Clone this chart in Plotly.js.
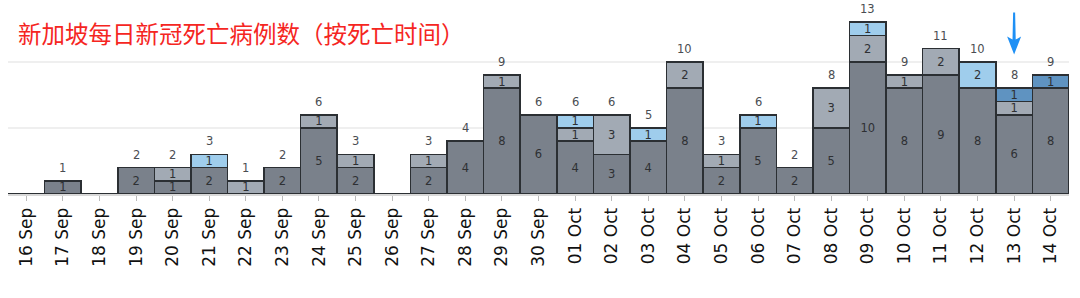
<!DOCTYPE html>
<html>
<head>
<meta charset="utf-8">
<script src="https://cdn.plot.ly/plotly-3.0.1.min.js"></script>
<style>html,body{margin:0;padding:0;background:#fff}#chart{width:1080px;height:298px}</style>
</head>
<body>
<div id="chart"></div>
<script>
const dates = ["16 Sep","17 Sep","18 Sep","19 Sep","20 Sep","21 Sep","22 Sep","23 Sep","24 Sep","25 Sep","26 Sep","27 Sep","28 Sep","29 Sep","30 Sep","01 Oct","02 Oct","03 Oct","04 Oct","05 Oct","06 Oct","07 Oct","08 Oct","09 Oct","10 Oct","11 Oct","12 Oct","13 Oct","14 Oct"];
const seriesDark  = [0,1,0,2,1,2,0,2,5,2,0,2,4,8,6,4,3,4,8,2,5,2,5,10,8,9,8,6,8];
const seriesGray  = [0,0,0,0,1,0,1,0,1,1,0,1,0,1,0,1,3,0,2,1,0,0,3,2,1,2,0,1,0];
const seriesLight = [0,0,0,0,0,1,0,0,0,0,0,0,0,0,0,1,0,1,0,0,1,0,0,1,0,0,2,0,0];
const seriesBlue  = [0,0,0,0,0,0,0,0,0,0,0,0,0,0,0,0,0,0,0,0,0,0,0,0,0,0,0,1,1];
const titleText = "新加坡每日新冠死亡病例数（按死亡时间）";
const markedDate = "13 Oct";

const totals = dates.map((d,i)=>seriesDark[i]+seriesGray[i]+seriesLight[i]+seriesBlue[i]);

function barTrace(vals, color){
  return {
    type:'bar', x:dates, y:vals,
    marker:{color:color, line:{color:'#2b2f33', width:1.6}},
    text: vals.map(v=>v>0?String(v):''),
    textposition:'inside', insidetextanchor:'middle', textangle:0,
    constraintext:'none',
    textfont:{family:'DejaVu Sans, sans-serif', size:11.5, color:'#2e3033'},
    hoverinfo:'skip', showlegend:false, cliponaxis:false
  };
}

const traces = [
  barTrace(seriesDark,'#7a818b'),
  barTrace(seriesGray,'#a2aab4'),
  barTrace(seriesLight,'#9fcdec'),
  barTrace(seriesBlue,'#5f93c1')
];

const totalLabels = dates.map((d,i)=>({
  xref:'x', yref:'y', x:d, y:totals[i], yanchor:'bottom', xanchor:'center', yshift:4,
  text:String(totals[i]), showarrow:false,
  font:{family:'DejaVu Sans, sans-serif', size:11.5, color:'#4a4d52'}
})).filter((a,i)=>totals[i]>0);

const layout = {
  width:1080, height:298,
  margin:{l:8, r:11, t:0, b:104, autoexpand:false},
  barmode:'stack', bargap:0,
  paper_bgcolor:'#fff', plot_bgcolor:'#fff',
  xaxis:{
    type:'category', tickangle:-90, automargin:false, range:[-0.5, dates.length-0.5],
    tickfont:{family:'DejaVu Sans, sans-serif', size:17, color:'#111'},
    ticks:'outside', ticklen:5, tickcolor:'#bbb', tickwidth:1,
    showline:true, linecolor:'#d8d8d8', linewidth:2,
    showgrid:false, fixedrange:true
  },
  yaxis:{
    range:[0,14.68], showticklabels:false, dtick:5, automargin:false,
    showgrid:true, gridcolor:'#efefef', gridwidth:2,
    zeroline:false, showline:false, ticks:'', fixedrange:true
  },
  shapes:[
    {type:'path', xref:'x', yref:'y', xsizemode:'pixel', ysizemode:'pixel',
     xanchor:dates.indexOf(markedDate), yanchor:10.55,
     path:'M 0 0 L -7 18 L -1.6 15 L -1 42 L 1 42 L 1.6 15 L 7 18 Z',
     fillcolor:'#1e90f5', line:{width:0}}
  ],
  annotations:[
    {xref:'paper', yref:'paper', x:0.008, y:1-33/194.3, xanchor:'left', yanchor:'middle',
     text:titleText, showarrow:false,
     font:{family:'Noto Sans CJK SC, sans-serif', size:23.5, color:'#f5261f'}}
  ].concat(totalLabels)
};

Plotly.newPlot('chart', traces, layout, {displayModeBar:false, staticPlot:true});
</script>
</body>
</html>
